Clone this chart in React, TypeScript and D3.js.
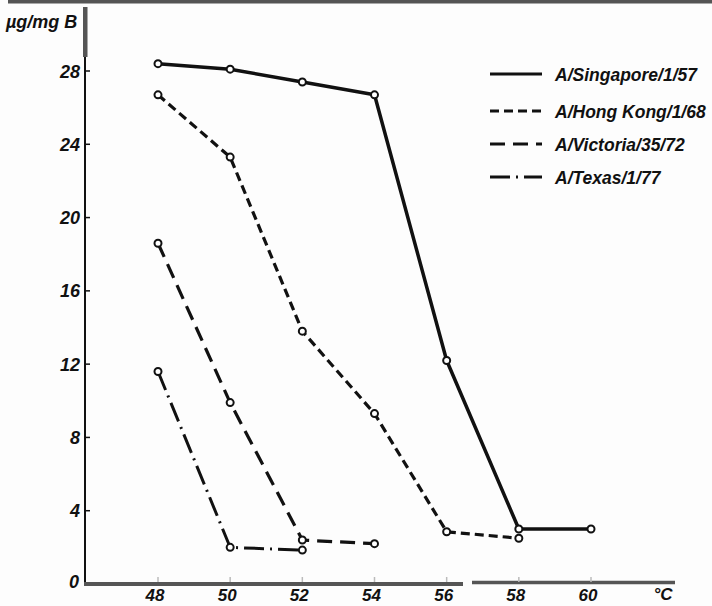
import React from "react";
import * as d3 from "d3";

// temperature (°C) on x, µg/mg B on y
const singaporeTemp = [48, 50, 52, 54, 56, 58, 60];
const singaporeVal = [28.4, 28.1, 27.4, 26.7, 12.2, 3.0, 3.0];
const hongKongTemp = [48, 50, 52, 54, 56, 58];
const hongKongVal = [26.7, 23.3, 13.8, 9.3, 2.85, 2.5];
const victoriaTemp = [48, 50, 52, 54];
const victoriaVal = [18.6, 9.9, 2.4, 2.2];
const texasTemp = [48, 50, 52];
const texasVal = [11.6, 2.0, 1.85];

const seriesNames = ["A/Singapore/1/57", "A/Hong Kong/1/68", "A/Victoria/35/72", "A/Texas/1/77"];
const xTicks = [48, 50, 52, 54, 56, 58, 60];
const yTicks = [0, 4, 8, 12, 16, 20, 24, 28];

const font = "'Liberation Sans', Arial, sans-serif";

export default function App() {
  const width = 712;
  const height = 606;
  const x = d3.scaleLinear([48, 60], [158, 591]);
  const y = d3.scaleLinear([0, 28], [584, 71]);

  const series = [
    { name: seriesNames[0], t: singaporeTemp, v: singaporeVal, dash: "none", sw: 3.5 },
    { name: seriesNames[1], t: hongKongTemp, v: hongKongVal, dash: "9,5", sw: 3.2 },
    { name: seriesNames[2], t: victoriaTemp, v: victoriaVal, dash: "15,8", sw: 3.2 },
    { name: seriesNames[3], t: texasTemp, v: texasVal, dash: "20,6,2,6", sw: 3 },
  ];

  const line = d3.line<[number, number]>()
    .x(d => x(d[0]))
    .y(d => y(d[1]));

  const txt = (size: number) => ({
    fontFamily: font, fontWeight: 700, fontStyle: "italic" as const, fontSize: size + "px", fill: "#111",
  });

  return (
    <svg width={width} height={height} style={{ position: "absolute", left: 0, top: 0, background: "#fdfdfd" }}>
      {/* scan border */}
      <rect x={8} y={0} width={704} height={3.5} fill="#555" />

      {/* y axis */}
      <line x1={85} x2={85} y1={7} y2={584} stroke="#111" strokeWidth={2} />
      <rect x={83} y={7} width={4.5} height={50} fill="#555" />
      {yTicks.filter(t => t > 0).map(t => (
        <g key={t}>
          <line x1={85} x2={90} y1={y(t)} y2={y(t)} stroke="#111" strokeWidth={1.5} />
          <text x={80} y={y(t) + 6.5} textAnchor="end" style={txt(18)}>{t}</text>
        </g>
      ))}
      <text x={79} y={y(0) + 4} textAnchor="end" style={txt(18)}>0</text>
      <text x={6} y={28} style={txt(18)}>µg/mg B</text>

      {/* x axis */}
      <line x1={84} x2={463} y1={584} y2={584} stroke="#555" strokeWidth={4} />
      <line x1={472} x2={675} y1={582.5} y2={582.5} stroke="#555" strokeWidth={3.5} />
      {xTicks.map(t => (
        <g key={t}>
          <line x1={x(t)} x2={x(t)} y1={577} y2={582} stroke="#bbb" strokeWidth={1.5} />
          <text x={x(t) - 3} y={601} textAnchor="middle" style={txt(17)}>{t}</text>
        </g>
      ))}
      <text x={663} y={600} textAnchor="middle" style={txt(17)}>°C</text>

      {/* series */}
      {series.map(s => {
        const pts = s.t.map((t, i) => [t, s.v[i]] as [number, number]);
        return (
          <g key={s.name}>
            <path d={line(pts) ?? ""} fill="none" stroke="#111" strokeWidth={s.sw}
              strokeDasharray={s.dash} strokeLinejoin="round" />
            {pts.map((p, i) => (
              <circle key={i} cx={x(p[0])} cy={y(p[1])} r={3.5} fill="#fff" stroke="#111" strokeWidth={2} />
            ))}
          </g>
        );
      })}

      {/* legend */}
      {series.map((s, i) => {
        const ly = [74, 111, 144, 177][i];
        return (
          <g key={s.name}>
            <line x1={490} x2={542} y1={ly} y2={ly} stroke="#111" strokeWidth={3} strokeDasharray={s.dash} />
            <text x={555} y={ly + 6.5} style={txt(17.5)}>{s.name}</text>
          </g>
        );
      })}
    </svg>
  );
}
